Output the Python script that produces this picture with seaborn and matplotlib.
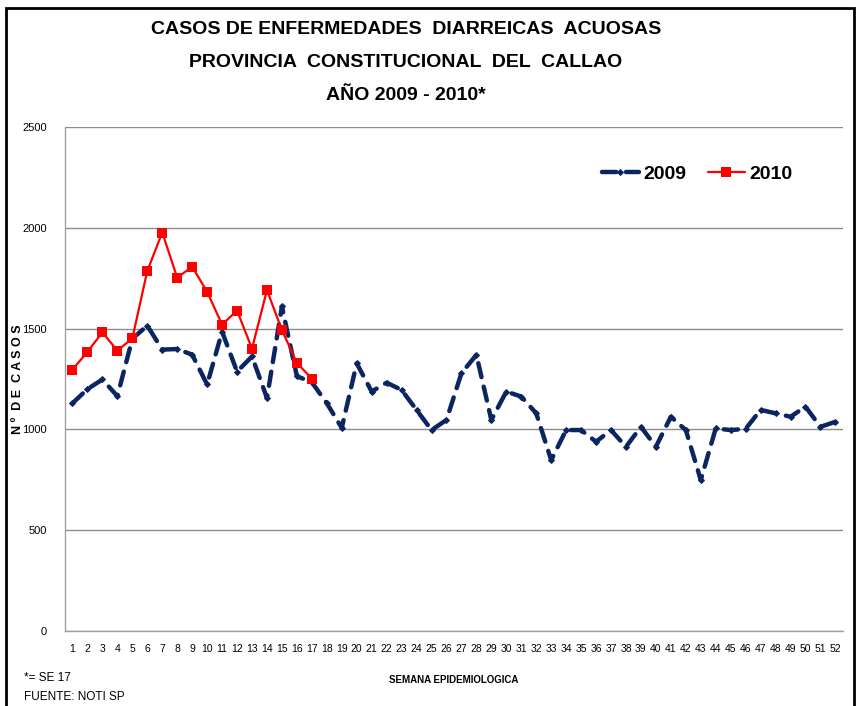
import numpy as np
import pandas as pd
import seaborn as sns
import matplotlib.pyplot as plt
from matplotlib.patches import Rectangle

sns.set_style('white')
plt.rcParams['font.family'] = ['Liberation Sans', 'DejaVu Sans']
plt.rcParams['text.color'] = 'black'
plt.rcParams['xtick.color'] = 'black'
plt.rcParams['ytick.color'] = 'black'
plt.rcParams['axes.labelcolor'] = 'black'

# weekly cases
weeks = list(range(1, 53))
casos_2009 = [1130, 1200, 1248, 1165, 1450, 1515, 1396, 1399, 1371, 1223,
              1485, 1287, 1362, 1156, 1610, 1264, 1234, 1130, 1008, 1328,
              1188, 1232, 1196, 1097, 997, 1047, 1279, 1370, 1047, 1188,
              1163, 1080, 848, 997, 997, 939, 997, 914, 1013, 914,
              1063, 997, 749, 1005, 997, 1003, 1097, 1080, 1063, 1113,
              1013, 1038]
weeks_2010 = list(range(1, 18))
casos_2010 = [1297, 1385, 1482, 1391, 1452, 1786, 1977, 1753, 1807, 1683,
              1520, 1590, 1401, 1691, 1493, 1330, 1252]

df09 = pd.DataFrame({'semana': weeks, 'casos': casos_2009})
df10 = pd.DataFrame({'semana': weeks_2010, 'casos': casos_2010})

navy = '#0a2560'
red = '#ff0000'

fig = plt.figure(figsize=(8.6, 7.06), dpi=100)
ax = fig.add_axes([0.0756, 0.1062, 0.9045, 0.7138])

sns.lineplot(data=df09, x='semana', y='casos', ax=ax, color=navy, linewidth=3.2,
             marker='D', markersize=3, markeredgecolor=navy, label='2009')
sns.lineplot(data=df10, x='semana', y='casos', ax=ax, color=red, linewidth=1.6,
             marker='s', markersize=7.5, markeredgewidth=0, label='2010')
l09 = ax.lines[0]
l09.set_dashes([3.2, 2.2])
l09.set_dash_capstyle('round')
l09.set_solid_capstyle('round')

ax.set_xlim(0.5, 52.5)
ax.set_ylim(0, 2500)
ax.set_yticks([0, 500, 1000, 1500, 2000, 2500])
ax.yaxis.grid(True, color='#8c8c8c', linewidth=1)
ax.set_axisbelow(True)
ax.set_xticks(weeks)
ax.set_xticklabels([str(w) for w in weeks], fontsize=7.5)
ax.set_xticks(np.arange(0.5, 53, 1), minor=True)
ax.tick_params(axis='x', which='major', length=0, pad=9)
ax.tick_params(axis='x', which='minor', length=4, color='#8c8c8c', direction='out')
ax.tick_params(axis='y', length=5, color='#8c8c8c', direction='out', labelsize=8, pad=8)

for s in ['top', 'right']:
    ax.spines[s].set_visible(False)
for s in ['left', 'bottom']:
    ax.spines[s].set_color('#a0a0a0')
    ax.spines[s].set_linewidth(1)

ax.set_xlabel('')
ax.set_ylabel('N º  D E  C A S O S', fontsize=9, fontweight='bold')
ax.yaxis.set_label_coords(-0.053, 0.5)

leg = ax.legend(loc='center left', bbox_to_anchor=(0.69, 0.907), frameon=False,
                ncol=2, prop={'weight': 'bold', 'size': 14}, handlelength=1.9,
                handletextpad=0.25, columnspacing=1.1, borderpad=0, borderaxespad=0)

fig.text(0.472, 0.958, 'CASOS DE ENFERMEDADES  DIARREICAS  ACUOSAS', ha='center',
         va='center', fontsize=14, fontweight='bold')
fig.text(0.472, 0.912, 'PROVINCIA  CONSTITUCIONAL  DEL  CALLAO', ha='center',
         va='center', fontsize=14, fontweight='bold')
fig.text(0.472, 0.865, 'AÑO 2009 - 2010*', ha='center', va='center',
         fontsize=14, fontweight='bold')

fig.text(0.527, 0.037, 'SEMANA EPIDEMIOLOGICA', ha='center', va='center',
         fontsize=7, fontweight='bold')
fig.text(0.028, 0.040, '*= SE 17', ha='left', va='center', fontsize=8.5)
fig.text(0.028, 0.013, 'FUENTE: NOTI SP', ha='left', va='center', fontsize=8.5)

fig.patches.append(Rectangle((0.007, -0.02), 0.986, 1.009, transform=fig.transFigure,
                             fill=False, edgecolor='black', linewidth=2))

fig.savefig('out.png', dpi=100)
